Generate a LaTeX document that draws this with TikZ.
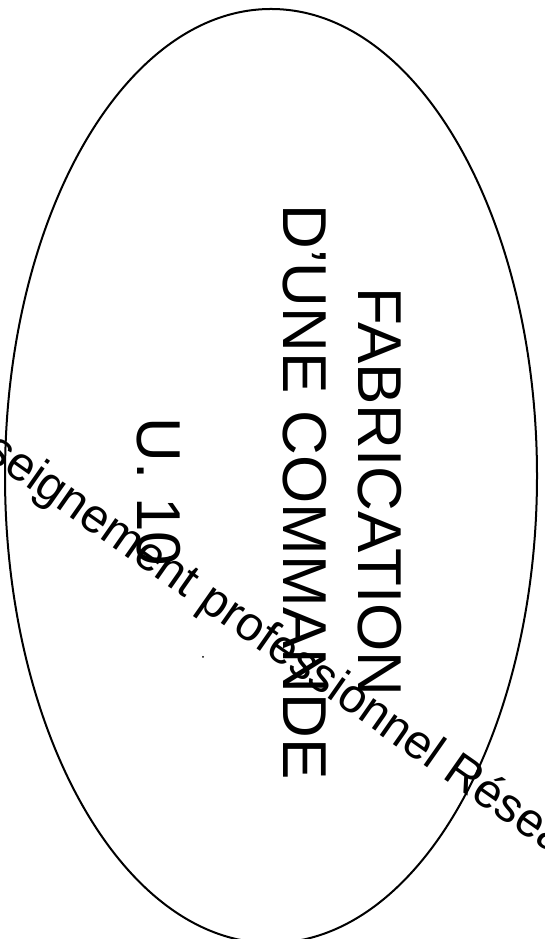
\documentclass[tikz,border=0pt]{standalone}
\usepackage{fontspec}
\setmainfont{Liberation Sans}
\begin{document}
\begin{tikzpicture}[x=1pt,y=1pt,
  titletext/.style={rotate=-90, anchor=base, inner sep=0pt, font=\fontsize{62}{74}\selectfont},
  watermark/.style={rotate=-35, anchor=base west, inner sep=0pt, font=\fontsize{48}{58}\selectfont}]
\useasboundingbox (0,0) rectangle (544,939);
\fill[white] (0,0) rectangle (544,939);
\clip (0,0) rectangle (544,939);
\draw[line width=2pt] (271,463) ellipse [x radius=266, y radius=467];
\node[titletext] (l1) at (358,447) {FABRICATION};
\node[titletext] (l2) at (283,447) {D’UNE COMMANDE};
\node[titletext] (l3) at (137,447) {U. 10};
\node[watermark] (wm) at (-61.4,513.4) {enseignement professionnel Réseau};
\fill (203,282) circle (1pt);
\end{tikzpicture}
\end{document}
